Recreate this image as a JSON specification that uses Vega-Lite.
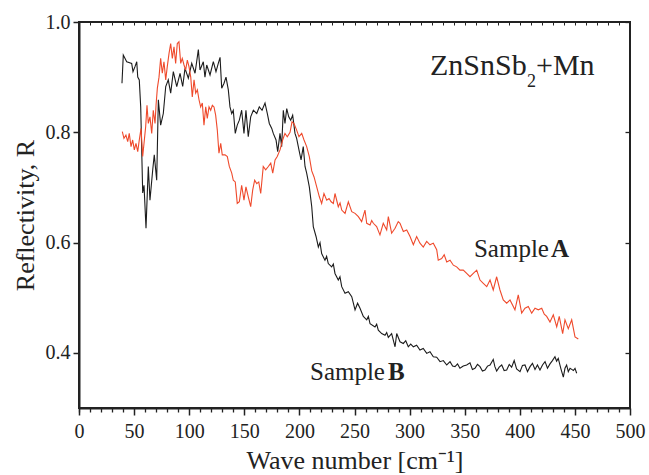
{
  "$schema": "https://vega.github.io/schema/vega-lite/v6.json",
  "width": 551,
  "height": 386,
  "autosize": {"type": "none"},
  "padding": {"left": 79, "top": 22, "right": 19, "bottom": 67},
  "background": "white",
  "config": {
    "view": {"stroke": "#222", "strokeWidth": 2},
    "font": "Liberation Serif, Times New Roman, serif",
    "text": {"font": "Liberation Serif, Times New Roman, serif"},
    "axis": {
      "labelFont": "Liberation Serif, Times New Roman, serif",
      "titleFont": "Liberation Serif, Times New Roman, serif",
      "labelColor": "#222",
      "titleColor": "#222",
      "tickColor": "#222",
      "domainColor": "#222",
      "grid": false,
      "titleFontWeight": "normal"
    }
  },
  "datasets": {
    "spectra": [
      {"s":"B","wn":39.0,"R":0.889},{"s":"B","wn":40.2,"R":0.94},{"s":"B","wn":43.3,"R":0.928},{"s":"B","wn":47.8,"R":0.925},{"s":"B","wn":49.0,"R":0.91},{"s":"B","wn":50.8,"R":0.919},{"s":"B","wn":52.4,"R":0.928},{"s":"B","wn":53.3,"R":0.90},{"s":"B","wn":54.7,"R":0.895},{"s":"B","wn":56.0,"R":0.846},{"s":"B","wn":57.8,"R":0.69},{"s":"B","wn":59.0,"R":0.704},{"s":"B","wn":60.8,"R":0.626},{"s":"B","wn":62.9,"R":0.738},{"s":"B","wn":64.4,"R":0.677},{"s":"B","wn":66.9,"R":0.732},{"s":"B","wn":68.3,"R":0.759},{"s":"B","wn":70.5,"R":0.713},{"s":"B","wn":72.0,"R":0.859},{"s":"B","wn":74.1,"R":0.813},{"s":"B","wn":76.5,"R":0.834},{"s":"B","wn":78.7,"R":0.883},{"s":"B","wn":81.0,"R":0.895},{"s":"B","wn":83.2,"R":0.871},{"s":"B","wn":85.6,"R":0.91},{"s":"B","wn":88.7,"R":0.883},{"s":"B","wn":91.7,"R":0.907},{"s":"B","wn":94.1,"R":0.883},{"s":"B","wn":96.2,"R":0.916},{"s":"B","wn":99.2,"R":0.898},{"s":"B","wn":102.3,"R":0.925},{"s":"B","wn":105.3,"R":0.907},{"s":"B","wn":108.3,"R":0.95},{"s":"B","wn":109.8,"R":0.913},{"s":"B","wn":112.8,"R":0.928},{"s":"B","wn":114.3,"R":0.90},{"s":"B","wn":115.9,"R":0.922},{"s":"B","wn":118.9,"R":0.904},{"s":"B","wn":121.9,"R":0.928},{"s":"B","wn":124.3,"R":0.91},{"s":"B","wn":126.4,"R":0.925},{"s":"B","wn":128.0,"R":0.936},{"s":"B","wn":129.5,"R":0.88},{"s":"B","wn":131.6,"R":0.889},{"s":"B","wn":133.4,"R":0.90},{"s":"B","wn":135.5,"R":0.877},{"s":"B","wn":137.0,"R":0.846},{"s":"B","wn":138.6,"R":0.834},{"s":"B","wn":140.0,"R":0.84},{"s":"B","wn":141.8,"R":0.798},{"s":"B","wn":143.6,"R":0.813},{"s":"B","wn":145.5,"R":0.822},{"s":"B","wn":147.6,"R":0.84},{"s":"B","wn":149.7,"R":0.798},{"s":"B","wn":151.5,"R":0.84},{"s":"B","wn":153.6,"R":0.792},{"s":"B","wn":155.8,"R":0.828},{"s":"B","wn":158.2,"R":0.84},{"s":"B","wn":161.3,"R":0.834},{"s":"B","wn":163.6,"R":0.846},{"s":"B","wn":166.1,"R":0.84},{"s":"B","wn":168.8,"R":0.853},{"s":"B","wn":170.9,"R":0.834},{"s":"B","wn":172.7,"R":0.816},{"s":"B","wn":174.9,"R":0.807},{"s":"B","wn":176.3,"R":0.798},{"s":"B","wn":178.8,"R":0.786},{"s":"B","wn":180.3,"R":0.765},{"s":"B","wn":182.4,"R":0.798},{"s":"B","wn":183.9,"R":0.774},{"s":"B","wn":185.4,"R":0.84},{"s":"B","wn":186.9,"R":0.816},{"s":"B","wn":188.5,"R":0.843},{"s":"B","wn":190.3,"R":0.828},{"s":"B","wn":192.1,"R":0.822},{"s":"B","wn":193.9,"R":0.831},{"s":"B","wn":196.0,"R":0.798},{"s":"B","wn":197.5,"R":0.789},{"s":"B","wn":199.6,"R":0.768},{"s":"B","wn":201.5,"R":0.75},{"s":"B","wn":203.5,"R":0.774},{"s":"B","wn":205.1,"R":0.738},{"s":"B","wn":206.6,"R":0.726},{"s":"B","wn":209.0,"R":0.701},{"s":"B","wn":211.2,"R":0.665},{"s":"B","wn":212.6,"R":0.629},{"s":"B","wn":215.1,"R":0.611},{"s":"B","wn":217.2,"R":0.592},{"s":"B","wn":218.7,"R":0.60},{"s":"B","wn":220.2,"R":0.58},{"s":"B","wn":223.2,"R":0.568},{"s":"B","wn":224.7,"R":0.575},{"s":"B","wn":226.2,"R":0.562},{"s":"B","wn":229.3,"R":0.556},{"s":"B","wn":230.8,"R":0.561},{"s":"B","wn":232.3,"R":0.544},{"s":"B","wn":235.3,"R":0.532},{"s":"B","wn":236.8,"R":0.538},{"s":"B","wn":238.4,"R":0.52},{"s":"B","wn":241.4,"R":0.508},{"s":"B","wn":244.4,"R":0.511},{"s":"B","wn":247.5,"R":0.502},{"s":"B","wn":250.5,"R":0.478},{"s":"B","wn":252.8,"R":0.49},{"s":"B","wn":255.0,"R":0.481},{"s":"B","wn":258.0,"R":0.466},{"s":"B","wn":261.1,"R":0.46},{"s":"B","wn":262.6,"R":0.466},{"s":"B","wn":264.1,"R":0.453},{"s":"B","wn":268.6,"R":0.447},{"s":"B","wn":270.1,"R":0.452},{"s":"B","wn":271.6,"R":0.441},{"s":"B","wn":274.7,"R":0.435},{"s":"B","wn":277.7,"R":0.432},{"s":"B","wn":279.2,"R":0.437},{"s":"B","wn":280.7,"R":0.428},{"s":"B","wn":283.7,"R":0.435},{"s":"B","wn":286.8,"R":0.411},{"s":"B","wn":288.3,"R":0.435},{"s":"B","wn":291.3,"R":0.42},{"s":"B","wn":294.3,"R":0.417},{"s":"B","wn":296.5,"R":0.422},{"s":"B","wn":298.8,"R":0.411},{"s":"B","wn":301.0,"R":0.416},{"s":"B","wn":303.4,"R":0.411},{"s":"B","wn":306.4,"R":0.414},{"s":"B","wn":309.4,"R":0.405},{"s":"B","wn":312.4,"R":0.408},{"s":"B","wn":315.5,"R":0.399},{"s":"B","wn":318.5,"R":0.402},{"s":"B","wn":321.5,"R":0.393},{"s":"B","wn":324.6,"R":0.392},{"s":"B","wn":327.6,"R":0.384},{"s":"B","wn":330.6,"R":0.386},{"s":"B","wn":333.7,"R":0.378},{"s":"B","wn":336.7,"R":0.384},{"s":"B","wn":339.0,"R":0.376},{"s":"B","wn":341.2,"R":0.375},{"s":"B","wn":343.5,"R":0.38},{"s":"B","wn":345.7,"R":0.372},{"s":"B","wn":348.7,"R":0.376},{"s":"B","wn":351.8,"R":0.378},{"s":"B","wn":354.8,"R":0.382},{"s":"B","wn":357.0,"R":0.37},{"s":"B","wn":359.3,"R":0.372},{"s":"B","wn":361.6,"R":0.379},{"s":"B","wn":363.9,"R":0.375},{"s":"B","wn":366.1,"R":0.367},{"s":"B","wn":368.4,"R":0.369},{"s":"B","wn":370.7,"R":0.376},{"s":"B","wn":373.0,"R":0.378},{"s":"B","wn":375.9,"R":0.388},{"s":"B","wn":377.4,"R":0.375},{"s":"B","wn":379.0,"R":0.367},{"s":"B","wn":381.3,"R":0.374},{"s":"B","wn":383.6,"R":0.378},{"s":"B","wn":385.8,"R":0.368},{"s":"B","wn":388.1,"R":0.369},{"s":"B","wn":390.4,"R":0.379},{"s":"B","wn":392.6,"R":0.374},{"s":"B","wn":394.9,"R":0.386},{"s":"B","wn":397.1,"R":0.371},{"s":"B","wn":400.2,"R":0.366},{"s":"B","wn":402.4,"R":0.377},{"s":"B","wn":404.7,"R":0.378},{"s":"B","wn":407.0,"R":0.366},{"s":"B","wn":409.3,"R":0.375},{"s":"B","wn":411.5,"R":0.381},{"s":"B","wn":413.8,"R":0.37},{"s":"B","wn":416.0,"R":0.378},{"s":"B","wn":418.3,"R":0.369},{"s":"B","wn":420.6,"R":0.378},{"s":"B","wn":422.9,"R":0.384},{"s":"B","wn":425.1,"R":0.372},{"s":"B","wn":427.4,"R":0.38},{"s":"B","wn":429.6,"R":0.386},{"s":"B","wn":431.9,"R":0.393},{"s":"B","wn":433.4,"R":0.385},{"s":"B","wn":434.9,"R":0.39},{"s":"B","wn":437.2,"R":0.372},{"s":"B","wn":439.5,"R":0.356},{"s":"B","wn":441.0,"R":0.372},{"s":"B","wn":442.5,"R":0.378},{"s":"B","wn":444.0,"R":0.366},{"s":"B","wn":445.6,"R":0.372},{"s":"B","wn":447.1,"R":0.37},{"s":"B","wn":448.6,"R":0.368},{"s":"B","wn":450.1,"R":0.372},{"s":"B","wn":451.6,"R":0.363},
      {"s":"A","wn":39.3,"R":0.801},{"s":"A","wn":40.8,"R":0.789},{"s":"A","wn":42.6,"R":0.795},{"s":"A","wn":44.2,"R":0.783},{"s":"A","wn":45.6,"R":0.798},{"s":"A","wn":47.2,"R":0.774},{"s":"A","wn":48.7,"R":0.786},{"s":"A","wn":50.2,"R":0.768},{"s":"A","wn":51.7,"R":0.78},{"s":"A","wn":53.3,"R":0.765},{"s":"A","wn":54.7,"R":0.786},{"s":"A","wn":56.3,"R":0.807},{"s":"A","wn":57.8,"R":0.756},{"s":"A","wn":59.0,"R":0.78},{"s":"A","wn":60.5,"R":0.81},{"s":"A","wn":61.7,"R":0.849},{"s":"A","wn":62.9,"R":0.816},{"s":"A","wn":64.4,"R":0.828},{"s":"A","wn":66.0,"R":0.798},{"s":"A","wn":67.4,"R":0.84},{"s":"A","wn":69.0,"R":0.816},{"s":"A","wn":69.9,"R":0.849},{"s":"A","wn":71.1,"R":0.88},{"s":"A","wn":72.6,"R":0.90},{"s":"A","wn":74.1,"R":0.934},{"s":"A","wn":75.6,"R":0.907},{"s":"A","wn":77.1,"R":0.928},{"s":"A","wn":78.7,"R":0.895},{"s":"A","wn":80.1,"R":0.919},{"s":"A","wn":81.7,"R":0.943},{"s":"A","wn":83.2,"R":0.961},{"s":"A","wn":84.7,"R":0.934},{"s":"A","wn":86.2,"R":0.955},{"s":"A","wn":87.7,"R":0.925},{"s":"A","wn":89.2,"R":0.961},{"s":"A","wn":90.7,"R":0.964},{"s":"A","wn":92.3,"R":0.925},{"s":"A","wn":93.7,"R":0.934},{"s":"A","wn":95.3,"R":0.922},{"s":"A","wn":96.8,"R":0.913},{"s":"A","wn":98.3,"R":0.931},{"s":"A","wn":99.8,"R":0.919},{"s":"A","wn":101.4,"R":0.90},{"s":"A","wn":102.8,"R":0.864},{"s":"A","wn":104.4,"R":0.895},{"s":"A","wn":105.9,"R":0.871},{"s":"A","wn":107.4,"R":0.877},{"s":"A","wn":108.9,"R":0.859},{"s":"A","wn":110.4,"R":0.846},{"s":"A","wn":111.9,"R":0.853},{"s":"A","wn":113.4,"R":0.813},{"s":"A","wn":115.0,"R":0.846},{"s":"A","wn":116.4,"R":0.825},{"s":"A","wn":118.0,"R":0.846},{"s":"A","wn":119.5,"R":0.84},{"s":"A","wn":121.0,"R":0.849},{"s":"A","wn":122.5,"R":0.846},{"s":"A","wn":124.0,"R":0.831},{"s":"A","wn":125.5,"R":0.804},{"s":"A","wn":127.0,"R":0.762},{"s":"A","wn":128.6,"R":0.78},{"s":"A","wn":130.0,"R":0.759},{"s":"A","wn":132.5,"R":0.759},{"s":"A","wn":134.6,"R":0.756},{"s":"A","wn":136.4,"R":0.738},{"s":"A","wn":138.6,"R":0.726},{"s":"A","wn":140.0,"R":0.713},{"s":"A","wn":141.8,"R":0.71},{"s":"A","wn":143.6,"R":0.671},{"s":"A","wn":145.5,"R":0.674},{"s":"A","wn":147.6,"R":0.704},{"s":"A","wn":149.7,"R":0.677},{"s":"A","wn":151.5,"R":0.701},{"s":"A","wn":153.6,"R":0.683},{"s":"A","wn":155.8,"R":0.665},{"s":"A","wn":157.6,"R":0.695},{"s":"A","wn":159.4,"R":0.713},{"s":"A","wn":161.3,"R":0.707},{"s":"A","wn":163.1,"R":0.71},{"s":"A","wn":164.9,"R":0.689},{"s":"A","wn":167.2,"R":0.738},{"s":"A","wn":169.4,"R":0.732},{"s":"A","wn":171.8,"R":0.738},{"s":"A","wn":174.0,"R":0.744},{"s":"A","wn":175.8,"R":0.726},{"s":"A","wn":177.9,"R":0.75},{"s":"A","wn":179.9,"R":0.756},{"s":"A","wn":182.4,"R":0.768},{"s":"A","wn":184.8,"R":0.786},{"s":"A","wn":186.9,"R":0.798},{"s":"A","wn":189.0,"R":0.792},{"s":"A","wn":191.5,"R":0.80},{"s":"A","wn":193.3,"R":0.819},{"s":"A","wn":195.1,"R":0.816},{"s":"A","wn":197.5,"R":0.804},{"s":"A","wn":199.6,"R":0.792},{"s":"A","wn":202.1,"R":0.798},{"s":"A","wn":204.2,"R":0.786},{"s":"A","wn":206.6,"R":0.774},{"s":"A","wn":209.0,"R":0.756},{"s":"A","wn":211.2,"R":0.73},{"s":"A","wn":213.3,"R":0.719},{"s":"A","wn":215.7,"R":0.701},{"s":"A","wn":218.1,"R":0.683},{"s":"A","wn":220.2,"R":0.671},{"s":"A","wn":222.3,"R":0.689},{"s":"A","wn":224.8,"R":0.677},{"s":"A","wn":226.9,"R":0.68},{"s":"A","wn":228.8,"R":0.674},{"s":"A","wn":230.8,"R":0.671},{"s":"A","wn":232.3,"R":0.689},{"s":"A","wn":235.3,"R":0.665},{"s":"A","wn":236.9,"R":0.672},{"s":"A","wn":238.4,"R":0.659},{"s":"A","wn":241.4,"R":0.653},{"s":"A","wn":244.4,"R":0.674},{"s":"A","wn":247.5,"R":0.656},{"s":"A","wn":250.5,"R":0.653},{"s":"A","wn":253.5,"R":0.647},{"s":"A","wn":256.5,"R":0.638},{"s":"A","wn":259.5,"R":0.659},{"s":"A","wn":261.1,"R":0.635},{"s":"A","wn":264.1,"R":0.632},{"s":"A","wn":265.6,"R":0.64},{"s":"A","wn":267.1,"R":0.635},{"s":"A","wn":270.1,"R":0.629},{"s":"A","wn":273.1,"R":0.614},{"s":"A","wn":276.1,"R":0.635},{"s":"A","wn":279.2,"R":0.623},{"s":"A","wn":280.7,"R":0.647},{"s":"A","wn":283.7,"R":0.617},{"s":"A","wn":286.8,"R":0.626},{"s":"A","wn":289.7,"R":0.638},{"s":"A","wn":291.3,"R":0.635},{"s":"A","wn":294.3,"R":0.62},{"s":"A","wn":297.4,"R":0.623},{"s":"A","wn":300.4,"R":0.611},{"s":"A","wn":303.4,"R":0.596},{"s":"A","wn":306.4,"R":0.611},{"s":"A","wn":309.4,"R":0.599},{"s":"A","wn":312.4,"R":0.592},{"s":"A","wn":315.5,"R":0.602},{"s":"A","wn":318.5,"R":0.596},{"s":"A","wn":321.5,"R":0.599},{"s":"A","wn":324.6,"R":0.587},{"s":"A","wn":326.0,"R":0.568},{"s":"A","wn":329.1,"R":0.571},{"s":"A","wn":331.4,"R":0.578},{"s":"A","wn":333.7,"R":0.565},{"s":"A","wn":336.7,"R":0.568},{"s":"A","wn":339.7,"R":0.559},{"s":"A","wn":342.7,"R":0.556},{"s":"A","wn":345.7,"R":0.55},{"s":"A","wn":348.7,"R":0.55},{"s":"A","wn":351.8,"R":0.544},{"s":"A","wn":354.8,"R":0.538},{"s":"A","wn":357.8,"R":0.544},{"s":"A","wn":360.9,"R":0.55},{"s":"A","wn":363.9,"R":0.532},{"s":"A","wn":366.9,"R":0.526},{"s":"A","wn":370.0,"R":0.52},{"s":"A","wn":373.0,"R":0.532},{"s":"A","wn":375.9,"R":0.514},{"s":"A","wn":379.0,"R":0.538},{"s":"A","wn":382.0,"R":0.514},{"s":"A","wn":385.0,"R":0.496},{"s":"A","wn":388.1,"R":0.49},{"s":"A","wn":391.1,"R":0.496},{"s":"A","wn":395.6,"R":0.478},{"s":"A","wn":398.6,"R":0.505},{"s":"A","wn":401.7,"R":0.472},{"s":"A","wn":404.7,"R":0.481},{"s":"A","wn":407.7,"R":0.484},{"s":"A","wn":410.8,"R":0.472},{"s":"A","wn":413.8,"R":0.481},{"s":"A","wn":416.8,"R":0.478},{"s":"A","wn":419.9,"R":0.481},{"s":"A","wn":422.2,"R":0.47},{"s":"A","wn":424.4,"R":0.466},{"s":"A","wn":427.4,"R":0.456},{"s":"A","wn":430.4,"R":0.469},{"s":"A","wn":433.5,"R":0.447},{"s":"A","wn":435.8,"R":0.466},{"s":"A","wn":438.9,"R":0.435},{"s":"A","wn":441.0,"R":0.46},{"s":"A","wn":444.0,"R":0.444},{"s":"A","wn":447.1,"R":0.46},{"s":"A","wn":450.1,"R":0.429},{"s":"A","wn":453.1,"R":0.425}
    ],
    "labels": [
      {"kind":"reg","t":"Sample","x":358.4,"y":0.574},
      {"kind":"bold","t":"A","x":428.3,"y":0.574},
      {"kind":"reg","t":"Sample","x":209.6,"y":0.3507},
      {"kind":"bold","t":"B","x":280.4,"y":0.3507},
      {"kind":"formula","t":"ZnSnSb","x":318.5,"y":0.904},
      {"kind":"sub","t":"2","x":406.5,"y":0.883},
      {"kind":"formula","t":"+Mn","x":414.7,"y":0.904}
    ]
  },
  "layer": [
    {
      "data": {"name": "spectra"},
      "mark": {"type": "line", "strokeWidth": 1.1, "interpolate": "linear"},
      "encoding": {
        "x": {"field": "wn", "type": "quantitative", "scale": {"domain": [0, 500], "nice": false, "zero": false},
          "axis": {"orient": "bottom", "values": [0,50,100,150,200,250,300,350,400,450,500], "tickSize": 7, "tickWidth": 1.5, "domainWidth": 2, "labelFontSize": 20, "labelPadding": 6, "labelFlush": false, "labelOverlap": false, "title": "Wave number [cm⁻¹]", "titleFontSize": 26, "titlePadding": 6}},
        "y": {"field": "R", "type": "quantitative", "scale": {"domain": [0.3, 1.0], "nice": false, "zero": false},
          "axis": {"orient": "left", "values": [0.4,0.6,0.8,1.0], "format": ".1f", "tickSize": 6, "tickWidth": 1.5, "domainWidth": 2, "labelFontSize": 20, "labelPadding": 3, "labelFlush": false, "title": "Reflectivity, R", "titleFontSize": 26, "titlePadding": 7}},
        "color": {"field": "s", "type": "nominal", "scale": {"domain": ["A", "B"], "range": ["#ef4a2c", "#1c1c1c"]}, "legend": null},
        "order": {"field": "wn", "type": "quantitative"}
      }
    },
    {
      "data": {"name": "labels"},
      "transform": [{"filter": "datum.kind === 'reg'"}],
      "mark": {"type": "text", "font": "Liberation Serif, Times New Roman, serif", "fontSize": 25, "align": "left", "baseline": "alphabetic", "color": "#222"},
      "encoding": {
        "x": {"field": "x", "type": "quantitative",
          "axis": {"orient": "bottom", "values": [0,10,20,30,40,60,70,80,90,110,120,130,140,160,170,180,190,210,220,230,240,260,270,280,290,310,320,330,340,360,370,380,390,410,420,430,440,460,470,480,490], "labels": false, "tickSize": 4, "tickWidth": 1.3, "domain": false, "title": null}},
        "y": {"field": "y", "type": "quantitative",
          "axis": {"orient": "right", "values": [0.4,0.6,0.8,1.0], "labels": false, "tickSize": -5, "tickWidth": 1.3, "domain": false, "title": null}},
        "text": {"field": "t"}
      }
    },
    {
      "data": {"name": "labels"},
      "transform": [{"filter": "datum.kind === 'bold'"}],
      "mark": {"type": "text", "font": "Liberation Serif, Times New Roman, serif", "fontSize": 25, "fontWeight": "bold", "align": "left", "baseline": "alphabetic", "color": "#222"},
      "encoding": {
        "x": {"field": "x", "type": "quantitative",
          "axis": {"orient": "top", "values": [0,10,20,30,40,50,60,70,80,90,100,110,120,130,140,150,160,170,180,190,200,210,220,230,240,250,260,270,280,290,300,310,320,330,340,350,360,370,380,390,400,410,420,430,440,450,460,470,480,490,500], "labels": false, "tickSize": -3, "tickWidth": 1, "domain": false, "title": null}},
        "y": {"field": "y", "type": "quantitative", "axis": null},
        "text": {"field": "t"}
      }
    },
    {
      "data": {"name": "labels"},
      "transform": [{"filter": "datum.kind === 'formula'"}],
      "mark": {"type": "text", "font": "Liberation Serif, Times New Roman, serif", "fontSize": 30, "align": "left", "baseline": "alphabetic", "color": "#222"},
      "encoding": {
        "x": {"field": "x", "type": "quantitative", "axis": null},
        "y": {"field": "y", "type": "quantitative", "axis": null},
        "text": {"field": "t"}
      }
    },
    {
      "data": {"name": "labels"},
      "transform": [{"filter": "datum.kind === 'sub'"}],
      "mark": {"type": "text", "font": "Liberation Serif, Times New Roman, serif", "fontSize": 18, "align": "left", "baseline": "alphabetic", "color": "#222"},
      "encoding": {
        "x": {"field": "x", "type": "quantitative", "axis": null},
        "y": {"field": "y", "type": "quantitative", "axis": null},
        "text": {"field": "t"}
      }
    }
  ],
  "resolve": {"axis": {"x": "independent", "y": "independent"}}
}
